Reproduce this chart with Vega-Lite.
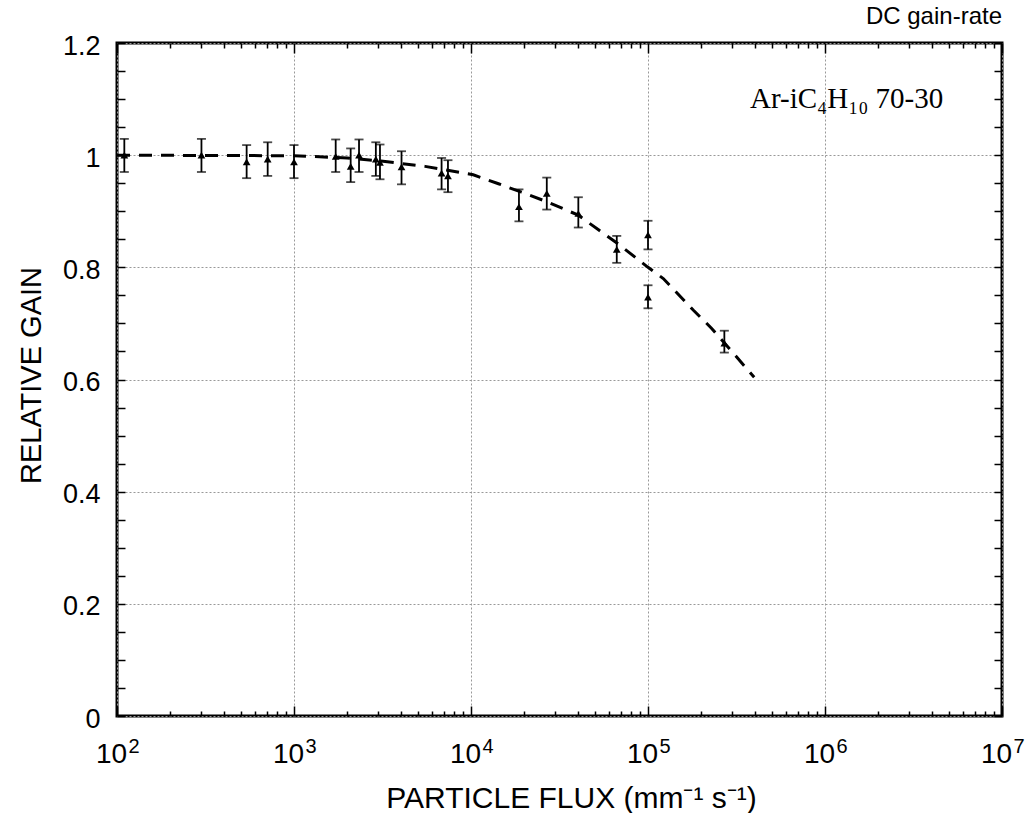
{
  "$schema": "https://vega.github.io/schema/vega-lite/v6.json",
  "width": 885,
  "height": 673,
  "autosize": {"type": "none"},
  "padding": {"left": 117, "top": 43, "right": 23, "bottom": 97},
  "background": "white",
  "title": {"text": "DC gain-rate", "anchor": "end", "frame": "group", "orient": "top", "offset": -16, "font": "Liberation Sans", "fontSize": 24, "fontWeight": "normal", "color": "black", "baseline": "alphabetic"},
  "config": {
    "view": {"stroke": "black", "strokeWidth": 3},
    "axis": {"domain": false, "grid": false, "ticks": false, "labels": false, "tickColor": "black", "tickWidth": 1.5, "labelColor": "black", "labelFont": "Liberation Sans", "labelFlush": false, "labelOverlap": false, "titleFont": "Liberation Sans", "titleFontWeight": "normal", "titleColor": "black", "titleFontSize": 29}
  },
  "datasets": {
    "fit": [
      {"flux": 100, "gain": 1.0},
      {"flux": 1000, "gain": 0.999},
      {"flux": 2000, "gain": 0.995},
      {"flux": 3000, "gain": 0.99},
      {"flux": 5500, "gain": 0.98},
      {"flux": 10300, "gain": 0.965},
      {"flux": 14300, "gain": 0.949},
      {"flux": 19300, "gain": 0.934},
      {"flux": 26800, "gain": 0.917},
      {"flux": 40400, "gain": 0.893},
      {"flux": 53000, "gain": 0.866},
      {"flux": 69000, "gain": 0.84},
      {"flux": 100000, "gain": 0.8},
      {"flux": 122000, "gain": 0.78},
      {"flux": 180000, "gain": 0.724},
      {"flux": 229000, "gain": 0.691},
      {"flux": 317000, "gain": 0.64},
      {"flux": 398000, "gain": 0.604}
    ],
    "meas": [
      {"flux": 110, "gain": 1.0, "lo": 0.97, "hi": 1.029},
      {"flux": 300, "gain": 1.0, "lo": 0.97, "hi": 1.029},
      {"flux": 540, "gain": 0.988, "lo": 0.959, "hi": 1.018},
      {"flux": 710, "gain": 0.993, "lo": 0.963, "hi": 1.023},
      {"flux": 1000, "gain": 0.988, "lo": 0.959, "hi": 1.018},
      {"flux": 1720, "gain": 0.998, "lo": 0.97, "hi": 1.028},
      {"flux": 2090, "gain": 0.98, "lo": 0.952, "hi": 1.012},
      {"flux": 2330, "gain": 1.0, "lo": 0.97, "hi": 1.028},
      {"flux": 2900, "gain": 0.993, "lo": 0.963, "hi": 1.023},
      {"flux": 3060, "gain": 0.987, "lo": 0.957, "hi": 1.019},
      {"flux": 4050, "gain": 0.979, "lo": 0.948, "hi": 1.007},
      {"flux": 6820, "gain": 0.968, "lo": 0.939, "hi": 0.995},
      {"flux": 7410, "gain": 0.963, "lo": 0.934, "hi": 0.991},
      {"flux": 18660, "gain": 0.908, "lo": 0.882, "hi": 0.939},
      {"flux": 26800, "gain": 0.932, "lo": 0.903, "hi": 0.96},
      {"flux": 40400, "gain": 0.896, "lo": 0.871, "hi": 0.925},
      {"flux": 66600, "gain": 0.832, "lo": 0.808, "hi": 0.856},
      {"flux": 100000, "gain": 0.858, "lo": 0.832, "hi": 0.883},
      {"flux": 100000, "gain": 0.747, "lo": 0.727, "hi": 0.768},
      {"flux": 270000, "gain": 0.665, "lo": 0.648, "hi": 0.687}
    ],
    "note": [
      {"flux": 377000, "gain": 1.084, "label": "Ar-iC₄H₁₀ 70-30"}
    ]
  },
  "resolve": {"axis": {"x": "independent", "y": "independent"}},
  "layer": [
    {
      "data": {"name": "fit"},
      "mark": {"type": "line", "color": "black", "strokeWidth": 3, "strokeDash": [13, 9]},
      "encoding": {
        "x": {"field": "flux", "type": "quantitative",
          "scale": {"type": "log", "domain": [100, 10000000], "nice": false},
          "axis": {"orient": "bottom", "values": [100, 1000, 10000, 100000, 1000000, 10000000],
            "ticks": true, "tickSize": -10, "grid": true, "gridDash": [2, 2], "gridColor": "#999", "gridWidth": 1,
            "labels": true, "labelExpr": "'10'", "labelFontSize": 28, "labelBaseline": "alphabetic", "labelPadding": 56, "labelOffset": -6,
            "title": "PARTICLE FLUX  (mm⁻¹ s⁻¹)", "titleFontSize": 30, "titleX": 454, "titleY": 91, "titleBaseline": "alphabetic", "titleAlign": "center", "titleAnchor": null}},
        "y": {"field": "gain", "type": "quantitative",
          "scale": {"domain": [0, 1.2], "nice": false, "zero": false},
          "axis": {"orient": "left", "values": [0, 0.2, 0.4, 0.6, 0.8, 1, 1.2],
            "grid": true, "gridDash": [2, 2], "gridColor": "#999", "gridWidth": 1,
            "labels": true, "labelExpr": "datum.value == 0 ? '0' : datum.value == 1 ? '1' : format(datum.value, '.1f')",
            "labelFontSize": 27, "labelPadding": 17, "labelAlign": "right", "labelBaseline": "middle", "labelOffset": 3,
            "title": "RELATIVE GAIN", "titleX": -77, "titleY": 332, "titleAngle": 270, "titleBaseline": "alphabetic", "titleAlign": "center"}}
      }
    },
    {
      "data": {"name": "meas"},
      "mark": {"type": "rule", "color": "black", "strokeWidth": 1.8},
      "encoding": {
        "x": {"field": "flux", "type": "quantitative",
          "scale": {"type": "log", "domain": [100, 10000000], "nice": false},
          "axis": {"orient": "bottom", "values": [200, 300, 400, 500, 600, 700, 800, 900, 2000, 3000, 4000, 5000, 6000, 7000, 8000, 9000, 20000, 30000, 40000, 50000, 60000, 70000, 80000, 90000, 200000, 300000, 400000, 500000, 600000, 700000, 800000, 900000, 2000000, 3000000, 4000000, 5000000, 6000000, 7000000, 8000000, 9000000],
            "ticks": true, "tickSize": -5, "title": null}},
        "y": {"field": "lo", "type": "quantitative",
          "scale": {"domain": [0, 1.2], "nice": false, "zero": false},
          "axis": {"orient": "left", "values": [0, 0.05, 0.1, 0.15, 0.2, 0.25, 0.3, 0.35, 0.4, 0.45, 0.5, 0.55, 0.6, 0.65, 0.7, 0.75, 0.8, 0.85, 0.9, 0.95, 1, 1.05, 1.1, 1.15, 1.2],
            "ticks": true, "tickSize": -8, "title": null}},
        "y2": {"field": "hi"}
      }
    },
    {
      "data": {"name": "meas"},
      "mark": {"type": "tick", "orient": "horizontal", "color": "black", "size": 9, "thickness": 1.8},
      "encoding": {
        "x": {"field": "flux", "type": "quantitative",
          "scale": {"type": "log", "domain": [100, 10000000], "nice": false},
          "axis": {"orient": "bottom", "values": [100, 1000, 10000, 100000, 1000000, 10000000],
            "labels": true, "labelExpr": "toString(round(log(datum.value) / LN10))", "labelFontSize": 20,
            "labelAlign": "left", "labelBaseline": "alphabetic", "labelPadding": 36, "labelOffset": 11, "title": null}},
        "y": {"field": "lo", "type": "quantitative",
          "scale": {"domain": [0, 1.2], "nice": false, "zero": false},
          "axis": {"orient": "right", "values": [0, 0.05, 0.1, 0.15, 0.2, 0.25, 0.3, 0.35, 0.4, 0.45, 0.5, 0.55, 0.6, 0.65, 0.7, 0.75, 0.8, 0.85, 0.9, 0.95, 1, 1.05, 1.1, 1.15, 1.2],
            "ticks": true, "tickSize": -8, "title": null}}
      }
    },
    {
      "data": {"name": "meas"},
      "mark": {"type": "tick", "orient": "horizontal", "color": "black", "size": 9, "thickness": 1.8},
      "encoding": {
        "x": {"field": "flux", "type": "quantitative",
          "scale": {"type": "log", "domain": [100, 10000000], "nice": false},
          "axis": {"orient": "top", "values": [100, 1000, 10000, 100000, 1000000, 10000000],
            "ticks": true, "tickSize": -10, "title": null}},
        "y": {"field": "hi", "type": "quantitative",
          "scale": {"domain": [0, 1.2], "nice": false, "zero": false}, "axis": null}
      }
    },
    {
      "data": {"name": "meas"},
      "mark": {"type": "point", "shape": "triangle-up", "filled": true, "color": "black", "size": 60, "opacity": 1},
      "encoding": {
        "x": {"field": "flux", "type": "quantitative",
          "scale": {"type": "log", "domain": [100, 10000000], "nice": false},
          "axis": {"orient": "top", "values": [200, 300, 400, 500, 600, 700, 800, 900, 2000, 3000, 4000, 5000, 6000, 7000, 8000, 9000, 20000, 30000, 40000, 50000, 60000, 70000, 80000, 90000, 200000, 300000, 400000, 500000, 600000, 700000, 800000, 900000, 2000000, 3000000, 4000000, 5000000, 6000000, 7000000, 8000000, 9000000],
            "ticks": true, "tickSize": -5, "title": null}},
        "y": {"field": "gain", "type": "quantitative",
          "scale": {"domain": [0, 1.2], "nice": false, "zero": false}, "axis": null}
      }
    },
    {
      "data": {"name": "note"},
      "mark": {"type": "text", "align": "left", "baseline": "alphabetic", "font": "Liberation Serif", "fontSize": 29, "color": "black"},
      "encoding": {
        "x": {"field": "flux", "type": "quantitative", "scale": {"type": "log", "domain": [100, 10000000], "nice": false}, "axis": null},
        "y": {"field": "gain", "type": "quantitative", "scale": {"domain": [0, 1.2], "nice": false, "zero": false}, "axis": null},
        "text": {"field": "label"}
      }
    }
  ]
}
